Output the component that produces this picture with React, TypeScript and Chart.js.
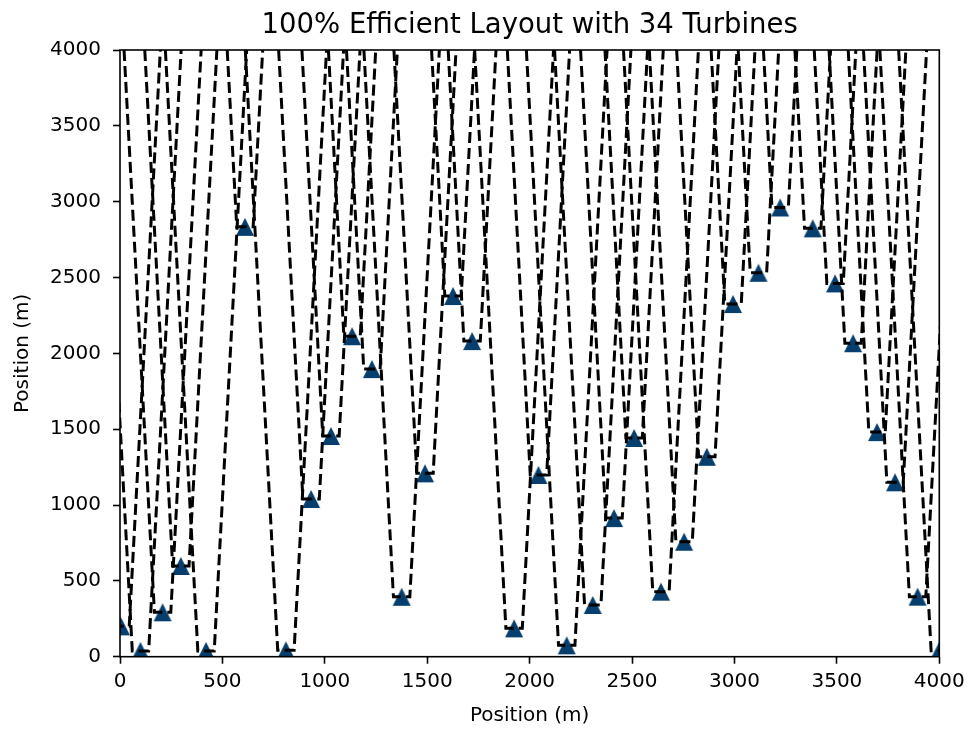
import React, { useEffect, useRef } from "react";
import { Chart, registerables } from "chart.js";

Chart.register(...registerables);

const TITLE = "100% Efficient Layout with 34 Turbines";
const X_LABEL = "Position (m)";
const Y_LABEL = "Position (m)";

const FIELD_MIN = 0;
const FIELD_MAX = 4000;
const TICK_VALUES = [0, 500, 1000, 1500, 2000, 2500, 3000, 3500, 4000];

// Turbine positions (m)
const TURBINE_X = [
  5, 100, 208, 297, 420, 610, 810, 933, 1030, 1133, 1230, 1375, 1489, 1626, 1719, 1924, 2043,
  2181, 2308, 2412, 2510, 2641, 2754, 2865, 2993, 3117, 3223, 3382, 3491, 3579, 3696, 3784, 3894, 4000,
];
const TURBINE_Y = [
  200, 38, 293, 598, 38, 2834, 42, 1040, 1455, 2113, 1896, 395, 1209, 2378, 2081, 187, 1198,
  75, 341, 914, 1442, 429, 758, 1318, 2325, 2531, 2962, 2824, 2461, 2067, 1481, 1150, 396, 40,
];

// Wake model constants: rotor radius (m) and linear wake expansion per metre downstream
const ROTOR_RADIUS = 40;
const WAKE_SPREAD = 0.04;

const MARKER_COLOR = "#063f6e";
const FONT = "DejaVu Sans";

function wakeOutline(x0: number, y0: number) {
  const rise = FIELD_MAX - y0;
  return [
    { x: x0 - ROTOR_RADIUS - WAKE_SPREAD * rise, y: FIELD_MAX },
    { x: x0 - ROTOR_RADIUS, y: y0 },
    { x: x0 + ROTOR_RADIUS, y: y0 },
    { x: x0 + ROTOR_RADIUS + WAKE_SPREAD * rise, y: FIELD_MAX },
  ];
}

function makeTriangle(size: number, color: string) {
  const c = document.createElement("canvas");
  c.width = size + 2;
  c.height = size + 2;
  const ctx = c.getContext("2d")!;
  ctx.fillStyle = color;
  ctx.beginPath();
  ctx.moveTo(c.width / 2, 1);
  ctx.lineTo(c.width - 1, c.height - 1);
  ctx.lineTo(1, c.height - 1);
  ctx.closePath();
  ctx.fill();
  return c;
}

const framePlugin = {
  id: "frame",
  afterDatasetsDraw(chart: any) {
    const { ctx, chartArea } = chart;
    ctx.save();
    ctx.strokeStyle = "#000";
    ctx.lineWidth = 1.6;
    ctx.strokeRect(chartArea.left, chartArea.top, chartArea.right - chartArea.left, chartArea.bottom - chartArea.top);
    ctx.restore();
  },
};

export default function App() {
  const ref = useRef<HTMLCanvasElement>(null);

  useEffect(() => {
    const canvas = ref.current;
    if (!canvas) return;
    const marker = makeTriangle(18, MARKER_COLOR);

    const wakeSets = TURBINE_X.map((x, i) => ({
      label: `Wake ${i + 1}`,
      data: wakeOutline(x, TURBINE_Y[i]),
      showLine: true,
      borderColor: "#000",
      borderWidth: 3,
      borderDash: [11, 5],
      pointRadius: 0,
      pointHoverRadius: 0,
      fill: false,
      clip: 0,
      order: 0,
    }));

    const turbineSet = {
      label: "Turbines",
      data: TURBINE_X.map((x, i) => ({ x, y: TURBINE_Y[i] })),
      showLine: false,
      pointStyle: marker,
      pointRadius: 9,
      pointHoverRadius: 9,
      backgroundColor: MARKER_COLOR,
      borderColor: MARKER_COLOR,
      clip: 0,
      order: 1,
    };

    const tickOpts = (pad: number) => ({
      color: "#000",
      font: { family: FONT, size: 20 },
      padding: pad,
      callback: (v: any) => String(v),
    });

    const chart = new Chart(canvas, {
      type: "scatter",
      data: { datasets: [...wakeSets, turbineSet] as any },
      plugins: [framePlugin],
      options: {
        animation: false,
        responsive: false,
        devicePixelRatio: 1,
        layout: { padding: { left: 0, right: 34.7, top: 0, bottom: 0 } },
        plugins: {
          legend: { display: false },
          tooltip: { enabled: false },
          title: {
            display: true,
            text: TITLE,
            fullSize: false,
            color: "#000",
            font: { family: FONT, size: 27.5, weight: "normal", lineHeight: 1.2 },
            padding: { top: 9.5, bottom: 7.5 },
          },
        },
        scales: {
          x: {
            type: "linear",
            min: FIELD_MIN,
            max: FIELD_MAX,
            afterBuildTicks: (axis: any) => {
              axis.ticks = TICK_VALUES.map((v) => ({ value: v }));
            },
            afterFit: (scale: any) => {
              scale.height = 75.3;
            },
            ticks: tickOpts(6),
            grid: { display: true, drawOnChartArea: false, drawTicks: true, tickLength: 7, tickWidth: 1.6, tickColor: "#000" },
            border: { display: false },
            title: {
              display: true,
              text: X_LABEL,
              color: "#000",
              font: { family: FONT, size: 20 },
              padding: { top: 0, bottom: 4.5 },
            },
          },
          y: {
            type: "linear",
            min: FIELD_MIN,
            max: FIELD_MAX,
            afterBuildTicks: (axis: any) => {
              axis.ticks = TICK_VALUES.map((v) => ({ value: v }));
            },
            afterFit: (scale: any) => {
              scale.width = 120;
            },
            ticks: tickOpts(12),
            grid: { display: true, drawOnChartArea: false, drawTicks: true, tickLength: 7, tickWidth: 1.6, tickColor: "#000" },
            border: { display: false },
            title: {
              display: true,
              text: Y_LABEL,
              color: "#000",
              font: { family: FONT, size: 20 },
              padding: { top: 11, bottom: 0 },
            },
          },
        },
      } as any,
    });

    return () => chart.destroy();
  }, []);

  return (
    <canvas
      ref={ref}
      width={974}
      height={732}
      style={{ position: "absolute", left: 0, top: 0, display: "block", width: 974, height: 732 }}
    />
  );
}
